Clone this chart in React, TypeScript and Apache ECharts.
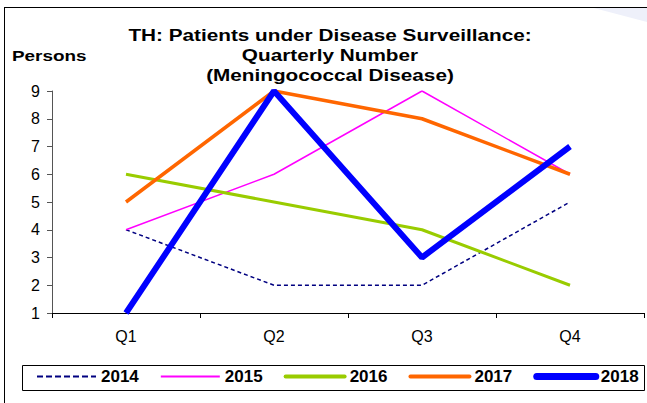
import React, { useEffect, useRef } from "react";
import * as echarts from "echarts";

const categories = ["Q1", "Q2", "Q3", "Q4"];
const s2014 = [4, 2, 2, 5];
const s2015 = [4, 6, 9, 6];
const s2016 = [6, 5, 4, 2];
const s2017 = [5, 9, 8, 6];
const s2018 = [1, 9, 3, 7];
const yTicks = [1, 2, 3, 4, 5, 6, 7, 8, 9];
const titleLines = ["TH: Patients under Disease Surveillance:", "Quarterly Number", "(Meningococcal Disease)"];

export default function App() {
  const ref = useRef<HTMLDivElement>(null);
  useEffect(() => {
    const chart = echarts.init(ref.current!, null, { renderer: "svg" });
    const font = "'Liberation Sans', Arial, sans-serif";
    const titleEls = titleLines.map((t, i) => ({
      type: "text",
      x: 330,
      y: 35 + i * 20,
      scaleX: 1.22,
      style: { text: t, align: "center", verticalAlign: "middle", fontFamily: font, fontWeight: "bold", fontSize: 17, fill: "#000" },
    }));
    chart.setOption({
      animation: false,
      backgroundColor: "#ffffff",
      graphic: [
        { type: "polygon", shape: { points: [[590, 7], [647, 7], [647, 22]] }, style: { fill: "#eef0fa" }, silent: true },
        { type: "line", shape: { x1: 4, y1: 7.5, x2: 647, y2: 7.5 }, style: { stroke: "#000", lineWidth: 1 } },
        { type: "line", shape: { x1: 4.5, y1: 7, x2: 4.5, y2: 403 }, style: { stroke: "#000", lineWidth: 1 } },
        { type: "rect", shape: { x: 22.5, y: 365.5, width: 622, height: 25 }, style: { fill: "none", stroke: "#000", lineWidth: 1 } },
        ...titleEls,
        { type: "text", x: 12, y: 56, scaleX: 1.26, style: { text: "Persons", align: "left", verticalAlign: "middle", fontFamily: font, fontWeight: "bold", fontSize: 15, fill: "#000" } },
      ],
      legend: {
        left: 36,
        top: 368,
        padding: 0,
        itemWidth: 59,
        itemHeight: 14,
        itemGap: 21,
        itemStyle: { opacity: 0, borderWidth: 0 },
        textStyle: { fontFamily: font, fontWeight: "bold", fontSize: 17, color: "#000" },
        data: [
          { name: "2014", lineStyle: { width: 2, type: [6, 3] } },
          { name: "2015", lineStyle: { width: 2 } },
          { name: "2016", lineStyle: { width: 4, cap: "round" } },
          { name: "2017", lineStyle: { width: 4, cap: "round" } },
          { name: "2018", lineStyle: { width: 7, cap: "round" } },
        ],
      },
      grid: { left: 52, right: 3, top: 91, bottom: 90 },
      xAxis: {
        type: "category",
        data: categories,
        boundaryGap: true,
        axisLine: { lineStyle: { color: "#000", width: 1 } },
        axisTick: { show: true, length: 5, lineStyle: { color: "#000" } },
        axisLabel: { fontFamily: font, fontSize: 16, color: "#000", margin: 15 },
      },
      yAxis: {
        type: "value",
        min: yTicks[0],
        max: yTicks[yTicks.length - 1],
        interval: 1,
        splitLine: { show: false },
        axisLine: { show: true, lineStyle: { color: "#555", width: 1 } },
        axisTick: { show: true, length: 5, lineStyle: { color: "#555" } },
        axisLabel: { fontFamily: font, fontSize: 16, color: "#000", margin: 12 },
      },
      series: [
        { name: "2014", type: "line", data: s2014, symbol: "none", lineStyle: { color: "#000080", width: 1.5, type: [4, 3] }, itemStyle: { color: "#000080" } },
        { name: "2015", type: "line", data: s2015, symbol: "none", lineStyle: { color: "#ff00ff", width: 1.5 }, itemStyle: { color: "#ff00ff" } },
        { name: "2016", type: "line", data: s2016, symbol: "none", lineStyle: { color: "#99cc00", width: 3 }, itemStyle: { color: "#99cc00" } },
        { name: "2017", type: "line", data: s2017, symbol: "none", lineStyle: { color: "#ff6600", width: 3.5 }, itemStyle: { color: "#ff6600" } },
        { name: "2018", type: "line", data: s2018, symbol: "none", lineStyle: { color: "#0000ff", width: 6 }, itemStyle: { color: "#0000ff" } },
      ],
    });
    return () => chart.dispose();
  }, []);
  return <div ref={ref} style={{ width: 647, height: 403, position: "absolute", left: 0, top: 0 }} />;
}
